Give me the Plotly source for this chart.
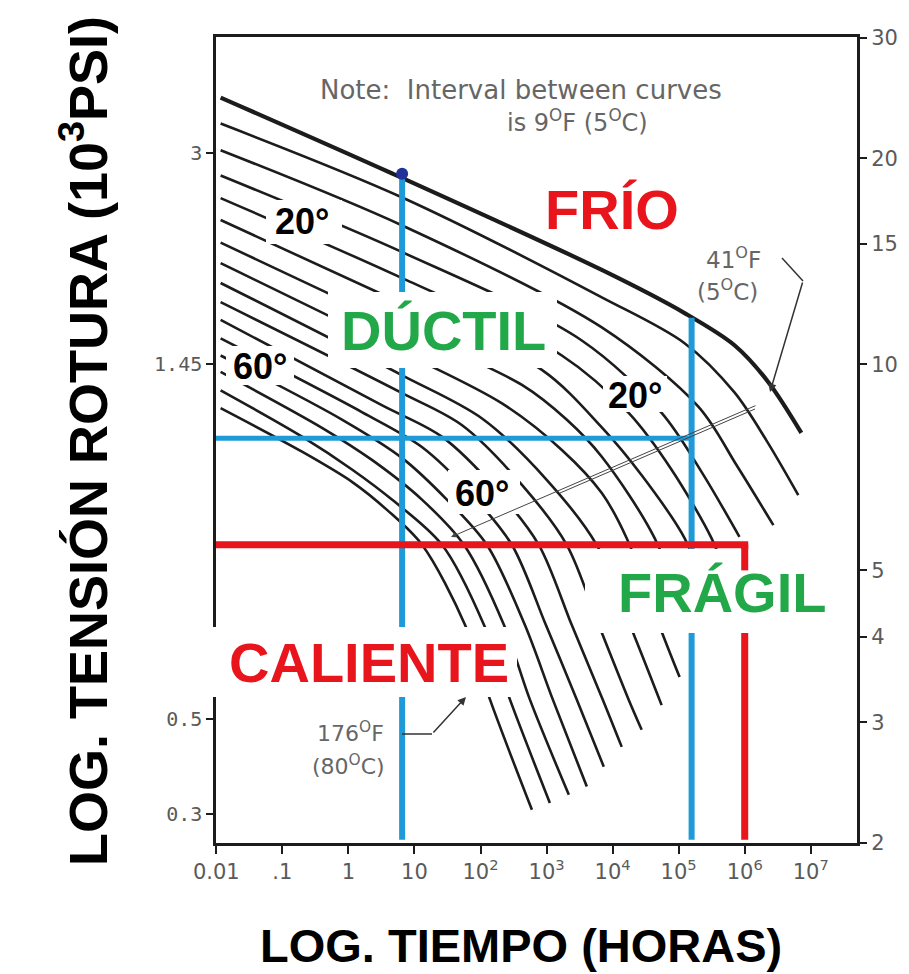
import plotly.graph_objects as go

# ---------------------------------------------------------------------------
# Stress-rupture curves, one per temperature (9 °F apart, 41 °F … 176 °F).
# Points are log10(hours) and log10(stress, MPa) along each curve.
# ---------------------------------------------------------------------------
temps_f = [41, 50, 59, 68, 77, 86, 95, 104, 113, 122, 131, 140, 149, 158, 167, 176]

curve_log_h = [
    [-1.935, 0.663, 3.836, 5.089, 5.845, 6.358, 6.857],
    [-1.935, 0.814, 3.836, 5.089, 5.845, 6.328, 6.811],
    [-1.935, 0.814, 3.836, 5.301, 5.875, 6.434],
    [-1.935, 0.814, 3.533, 4.742, 5.346, 5.920],
    [-1.935, 0.814, 3.231, 4.243, 4.893, 5.497, 5.678],
    [-1.935, 0.814, 2.929, 3.836, 4.440, 5.089, 5.422],
    [-1.935, 0.814, 2.627, 3.307, 3.836, 4.636, 5.135],
    [-1.935, 0.814, 2.325, 3.231, 3.836, 4.213, 4.772, 5.014],
    [-1.935, 0.814, 2.023, 3.005, 3.760, 4.334, 4.742],
    [-1.935, 0.814, 1.721, 2.627, 3.307, 3.790, 4.243, 4.440],
    [-1.935, 0.512, 1.419, 2.249, 2.884, 3.382, 3.851, 4.138],
    [-1.935, 0.210, 1.117, 1.872, 2.476, 2.990, 3.458, 3.866],
    [-1.935, -0.092, 0.814, 1.494, 2.098, 2.672, 3.095, 3.609],
    [-1.935, -0.394, 0.361, 1.117, 1.751, 2.355, 2.748, 3.337],
    [-1.935, -0.696, 0.059, 0.663, 1.419, 2.053, 2.446, 3.050],
    [-1.935, -0.696, 0.059, 0.588, 1.117, 1.766, 2.144, 2.778],
]
curve_log_mpa = [
    [1.390, 1.279, 1.138, 1.075, 1.028, 0.974, 0.900],
    [1.352, 1.244, 1.098, 1.031, 0.959, 0.889, 0.809],
    [1.313, 1.203, 1.054, 0.938, 0.853, 0.765],
    [1.276, 1.164, 1.035, 0.929, 0.843, 0.748],
    [1.243, 1.126, 1.013, 0.929, 0.846, 0.746, 0.702],
    [1.211, 1.089, 0.992, 0.908, 0.838, 0.746, 0.659],
    [1.178, 1.053, 0.970, 0.919, 0.865, 0.746, 0.615],
    [1.148, 1.018, 0.943, 0.875, 0.812, 0.746, 0.602, 0.543],
    [1.119, 0.984, 0.921, 0.831, 0.736, 0.602, 0.502],
    [1.091, 0.958, 0.911, 0.824, 0.736, 0.619, 0.510, 0.466],
    [1.065, 0.940, 0.894, 0.816, 0.736, 0.619, 0.510, 0.441],
    [1.038, 0.930, 0.879, 0.809, 0.736, 0.619, 0.510, 0.412],
    [1.013, 0.919, 0.863, 0.802, 0.736, 0.619, 0.510, 0.383],
    [0.989, 0.907, 0.860, 0.802, 0.736, 0.619, 0.510, 0.371],
    [0.962, 0.894, 0.846, 0.802, 0.736, 0.619, 0.510, 0.359],
    [0.936, 0.872, 0.828, 0.787, 0.736, 0.619, 0.510, 0.349],
]

# Reference lines (hours, MPa)
blue_hours = [6.5, 1.57e5]
blue_top_mpa = [19.0, 11.7]
blue_level_mpa = 7.8
red_hours = 1.0e6
red_level_mpa = 5.45
red_stub_end_mpa = 5.0
axis_bottom_mpa = 2.02

# Axis ticks
x_tick_hours = [0.01, 0.1, 1, 10, 1e2, 1e3, 1e4, 1e5, 1e6, 1e7]
x_tick_text = ["0.01", ".1", "1", "10", "10<sup>2</sup>", "10<sup>3</sup>",
               "10<sup>4</sup>", "10<sup>5</sup>", "10<sup>6</sup>", "10<sup>7</sup>"]
right_tick_mpa = [2, 3, 4, 5, 10, 15, 20, 30]
left_tick_pos_mpa = [20.4, 10.0, 3.03, 2.2]
left_tick_text = ["3", "1.45", "0.5", "0.3"]

X_RANGE = [-2.005, 7.70]
Y_RANGE = [0.3005, 1.4785]

BLUE = "#1E9AD8"
RED = "#E8151D"
GREEN = "#22A849"
INK = "#1c1c1c"
GRAY = "#5a5a5a"

# Plot area in pixels
L, R, T, B = 216, 857, 37, 843


def px(x):
    return (x - L) / (R - L)


def py(y):
    return (B - y) / (B - T)


fig = go.Figure()

# rupture curves
for i, (lh, lm) in enumerate(zip(curve_log_h, curve_log_mpa)):
    fig.add_trace(go.Scatter(
        x=[10 ** v for v in lh], y=[10 ** v for v in lm],
        mode="lines", line=dict(color=INK, width=4.2 if i == 0 else 2.6,
                                shape="spline", smoothing=0.9),
        name=f"{temps_f[i]} °F", hoverinfo="name"))

x_left = 10 ** X_RANGE[0]

# blue guide lines
for h, top in zip(blue_hours, blue_top_mpa):
    fig.add_trace(go.Scatter(x=[h, h], y=[top, axis_bottom_mpa], mode="lines",
                             line=dict(color=BLUE, width=6), hoverinfo="skip"))
fig.add_trace(go.Scatter(x=[x_left, blue_hours[1]], y=[blue_level_mpa, blue_level_mpa],
                         mode="lines", line=dict(color=BLUE, width=5), hoverinfo="skip"))
# red guide line
fig.add_trace(go.Scatter(x=[x_left, red_hours, red_hours],
                         y=[red_level_mpa, red_level_mpa, axis_bottom_mpa],
                         mode="lines", line=dict(color=RED, width=7), hoverinfo="skip"))
# marker where the blue line meets the coldest curve
fig.add_trace(go.Scatter(x=[blue_hours[0]], y=[blue_top_mpa[0]], mode="markers",
                         marker=dict(color="#22309a", size=12), yaxis="y2",
                         hoverinfo="skip"))

# white boxes behind the labels (pixel boxes)
label_boxes = [
    (328, 292, 557, 368),   # DÚCTIL
    (208, 627, 517, 697),   # CALIENTE
    (585, 549, 836, 633),   # FRÁGIL
    (266, 200, 342, 244),   # 20° left
    (226, 346, 294, 385),   # 60° left
    (603, 376, 667, 412),   # 20° right
    (448, 470, 520, 514),   # 60° middle
]
shapes = []
for x0, y0, x1, y1 in label_boxes:
    shapes.append(dict(type="rect", xref="paper", yref="paper", layer="above",
                       x0=px(x0), x1=px(x1), y0=py(y1), y1=py(y0),
                       fillcolor="white", line=dict(width=0)))
# short piece of the red line above the FRÁGIL label
shapes.append(dict(type="line", xref="x", yref="y", layer="above",
                   x0=red_hours, x1=red_hours, y0=red_level_mpa, y1=red_stub_end_mpa,
                   line=dict(color=RED, width=7)))
# leader lines for the temperature call-outs
shapes.append(dict(type="line", xref="paper", yref="paper", layer="above",
                   x0=px(782), y0=py(258), x1=px(803), y1=py(281),
                   line=dict(color="#333", width=1.5)))
shapes.append(dict(type="line", xref="paper", yref="paper", layer="above",
                   x0=px(402), y0=py(734), x1=px(432), y1=py(734),
                   line=dict(color="#333", width=1.5)))
shapes.append(dict(type="line", xref="paper", yref="paper", layer="above",
                   x0=px(560), y0=py(493), x1=px(755), y1=py(409),
                   line=dict(color="#444", width=1)))

BOLD = "Liberation Sans, Arial, sans-serif"
anns = []


def text(x, y, s, size, color, family=BOLD, weight=700, xanchor="center", angle=0):
    anns.append(dict(xref="paper", yref="paper", x=px(x), y=py(y), text=s,
                     showarrow=False, xanchor=xanchor, yanchor="middle",
                     textangle=angle,
                     font=dict(family=family, size=size, color=color, weight=weight)))


def arrow(tip, tail, color="#333", width=1.5):
    anns.append(dict(xref="paper", yref="paper", x=px(tip[0]), y=py(tip[1]), text="",
                     showarrow=True, ax=tail[0] - tip[0], ay=tail[1] - tip[1],
                     arrowhead=2, arrowsize=1.1, arrowwidth=width, arrowcolor=color))


text(612, 210, "FRÍO", 56, RED)
text(443, 330, "DÚCTIL", 56, GREEN)
text(369, 662, "CALIENTE", 56, RED)
text(722, 592, "FRÁGIL", 56, GREEN)
text(302, 221, "20°", 36, "black")
text(260, 366, "60°", 36, "black")
text(635, 395, "20°", 36, "black")
text(482, 493, "60°", 36, "black")

THIN = "DejaVu Sans, sans-serif"
NOTE_GRAY = "#666666"
text(318, 90, "Note:  Interval between curves", 26, NOTE_GRAY, THIN, 400, "left")
text(505, 121, "is 9<sup>O</sup>F (5<sup>O</sup>C)", 24, NOTE_GRAY, THIN, 400, "left")
text(733, 258, "41<sup>O</sup>F", 23, NOTE_GRAY, THIN, 400)
text(727, 290, "(5<sup>O</sup>C)", 23, NOTE_GRAY, THIN, 400)
text(350, 732, "176<sup>O</sup>F", 22, NOTE_GRAY, THIN, 400)
text(348, 765, "(80<sup>O</sup>C)", 22, NOTE_GRAY, THIN, 400)

arrow((770, 392), (803, 281))
arrow((466, 697), (432, 734))
arrow((451, 537), (757, 405), "#444", 1)

# axis titles
text(84, 441, "LOG. TENSIÓN ROTURA (10<sup>3</sup>PSI)", 54, "black", angle=-90)
text(521, 945, "LOG. TIEMPO (HORAS)", 47, "black")

fig.update_layout(
    width=909, height=974,
    margin=dict(l=L, r=909 - R, t=T, b=974 - B),
    paper_bgcolor="white", plot_bgcolor="white",
    showlegend=False, shapes=shapes, annotations=anns,
    xaxis=dict(type="log", range=X_RANGE, tickmode="array", tickvals=x_tick_hours,
               ticktext=x_tick_text, ticks="outside", ticklen=8, tickwidth=1.5,
               tickcolor=INK, showline=True, linecolor=INK, linewidth=2.5,
               mirror=True, showgrid=False, zeroline=False,
               tickfont=dict(family=THIN, size=21, color=GRAY)),
    yaxis=dict(type="log", range=Y_RANGE, side="right", tickmode="array",
               tickvals=right_tick_mpa, ticktext=[str(v) for v in right_tick_mpa],
               ticks="outside", ticklen=7, tickwidth=1.5, tickcolor=INK,
               showline=True, linecolor=INK, linewidth=3, showgrid=False,
               zeroline=False, tickfont=dict(family=THIN, size=21, color=GRAY)),
    yaxis2=dict(type="log", range=Y_RANGE, side="left", overlaying="y",
                tickmode="array", tickvals=left_tick_pos_mpa, ticktext=left_tick_text,
                ticks="outside", ticklen=7, tickwidth=1.5, tickcolor=INK,
                showline=True, linecolor=INK, linewidth=2.5, showgrid=False,
                zeroline=False,
                tickfont=dict(family="DejaVu Sans Mono, monospace", size=20, color=GRAY)),
)

fig.write_html("out.html")
